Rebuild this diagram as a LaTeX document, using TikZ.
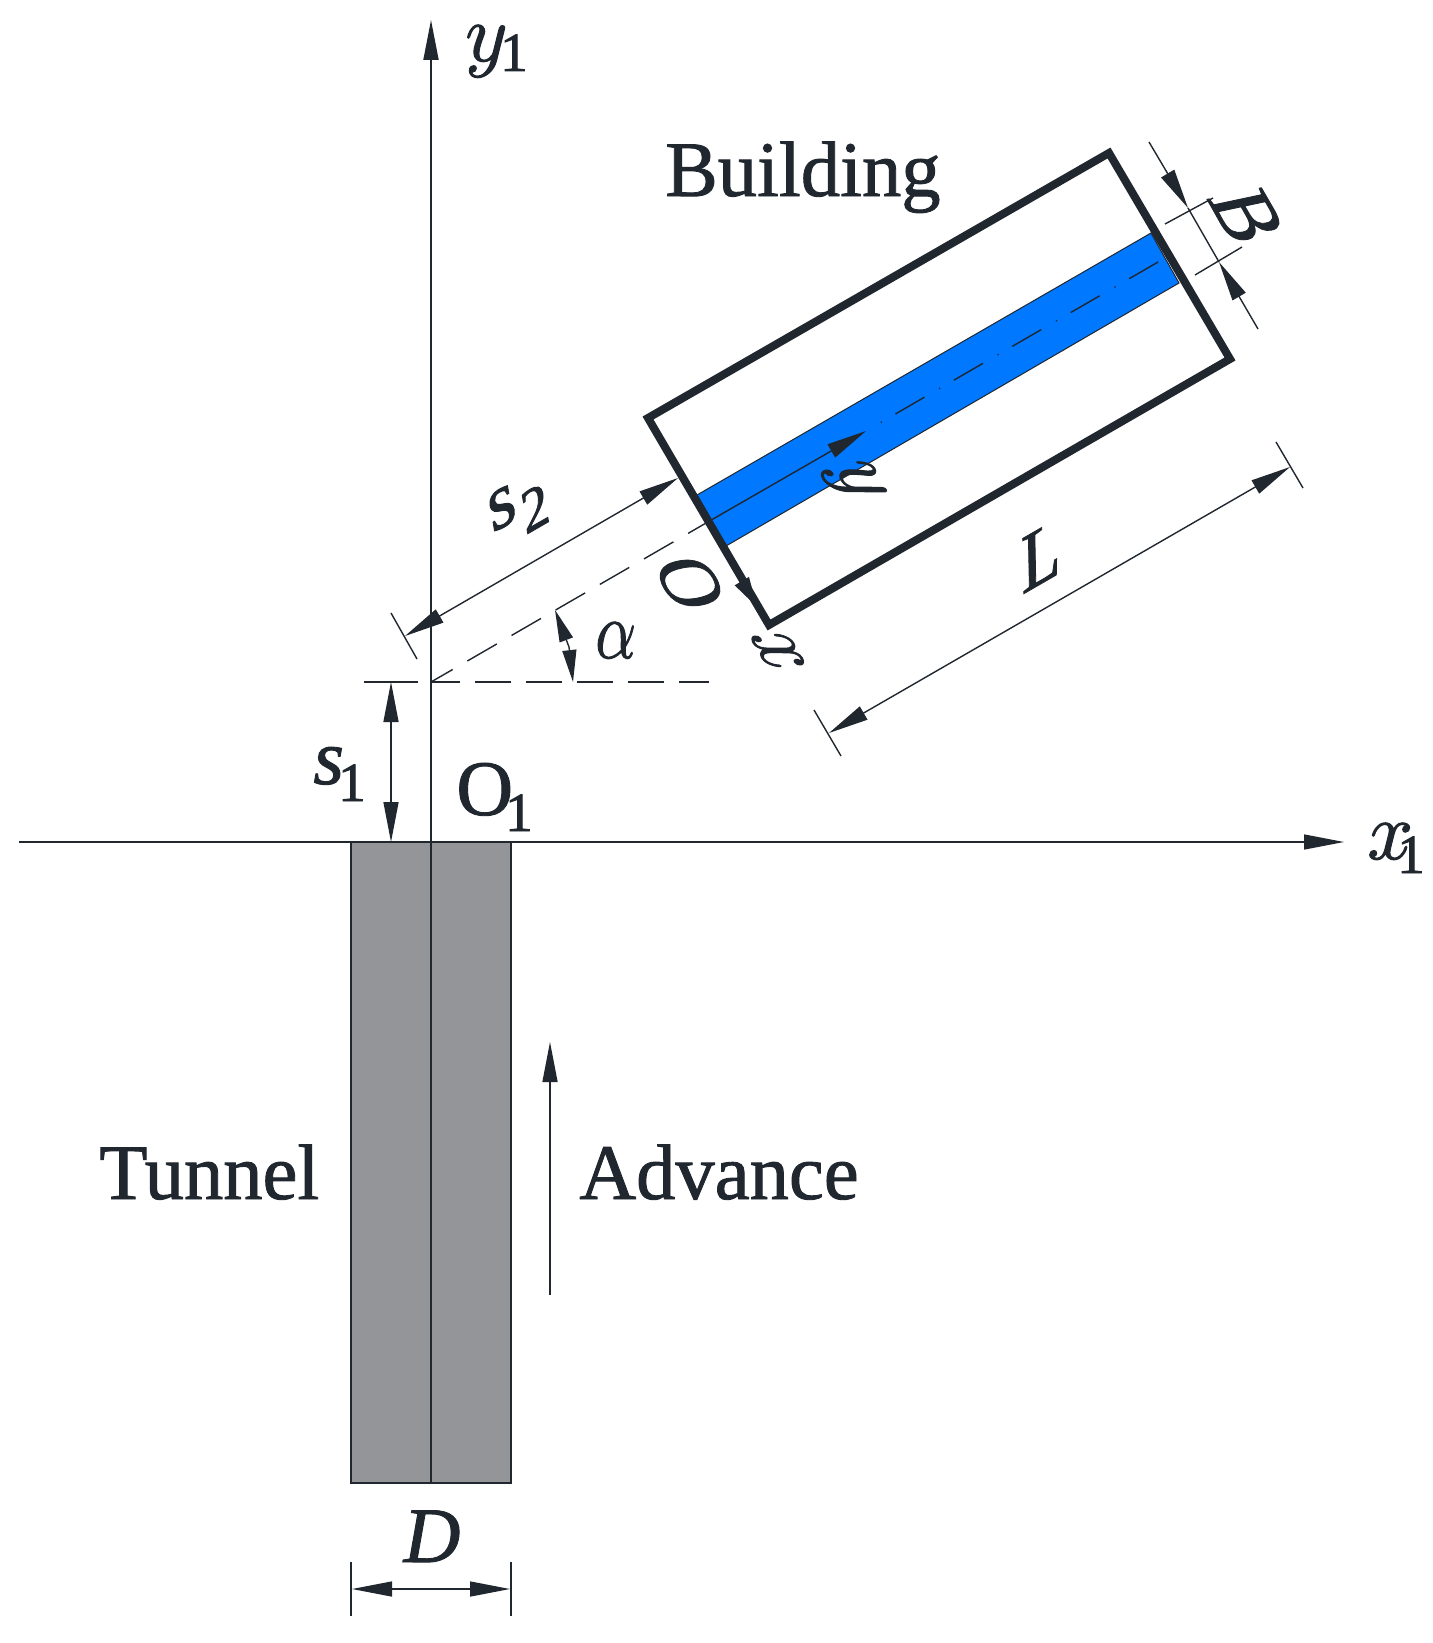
\documentclass[tikz,border=0pt]{standalone}
\usepackage{fontspec}
\setmainfont{Liberation Serif}
\usetikzlibrary{arrows.meta}
\definecolor{ink}{HTML}{20272F}
\definecolor{bandblue}{HTML}{0078FF}
\definecolor{tunnelgray}{HTML}{939598}
\newcommand{\mylarge}{\fontsize{39.3}{39.3}\selectfont}
\newcommand{\mysub}{\fontsize{27.5}{27.5}\selectfont}
\newcommand{\heavytxt}[2][0.45]{\special{pdf:code q 2 Tr #1 w}#2\special{pdf:code Q}}
\newcommand{\mymath}[1]{\heavytxt[0.35]{\scalebox{1.65}{\Huge$#1$}}}
\tikzset{
  dimtip/.tip={Triangle[length=20pt,width=7.5pt]},
  smalltip/.tip={Triangle[length=16pt,width=7pt]},
  thin line/.style={draw=ink,line width=0.8pt},
  dim line/.style={draw=ink,line width=0.7pt},
  dim both/.style={dim line,{dimtip}-{dimtip}},
  dim end/.style={dim line,-{dimtip}},
  axis line/.style={draw=ink,line width=0.9pt},
  long dash/.style={draw=ink,line width=0.7pt,dash pattern=on 17pt off 8.5pt,dash phase=4.5pt},
  level dash/.style={draw=ink,line width=0.7pt,dash pattern=on 18pt off 7.5pt,dash phase=3.5pt},
  centre dash/.style={draw=ink,line width=0.7pt,dash pattern=on 16.75pt off 8.5pt on 0.6pt off 7.9pt,dash phase=16.75pt},
  wall/.style={draw=ink,line width=4pt,line join=miter},
  lab/.style={inner sep=0pt,text=ink,font=\mylarge},
  sublab/.style={inner sep=0pt,text=ink,font=\mysub},
  skewdown/.style={inner sep=0pt,text=ink,font=\mylarge,cm={0.5,-0.866,0.978,0.208,(0,0)}},
  skewup/.style={inner sep=0pt,text=ink,font=\mylarge,cm={0.866,0.5,-0.174,0.985,(0,0)}}
}
\begin{document}
\begin{tikzpicture}[x=0.5pt,y=-0.5pt]
\useasboundingbox (0,0) rectangle (1433,1643);
\fill[white] (0,0) rectangle (1433,1643);
% key points
\coordinate (ytop) at (431,20);
\coordinate (ybot) at (431,1483);
\coordinate (xleft) at (19,842);
\coordinate (xright) at (1344,842);
\coordinate (org) at (431,682);
\coordinate (tA) at (351,842);
\coordinate (tB) at (511,842);
\coordinate (tC) at (511,1483);
\coordinate (tD) at (351,1483);
\coordinate (bTL) at (648,418);
\coordinate (bTR) at (1109,153);
\coordinate (bBR) at (1230,359);
\coordinate (bBL) at (769,625);
\coordinate (bandA) at (697,495);
\coordinate (bandB) at (1151,233);
\coordinate (bandC) at (1179,283);
\coordinate (bandD) at (726,546);
\coordinate (yorg) at (713,519);
\coordinate (ytip) at (866,431);
\coordinate (cend) at (1165,258);
% tunnel
\filldraw[fill=tunnelgray,draw=ink,line width=0.8pt] (tA) -- (tB) -- (tC) -- (tD) -- cycle;
% band
\filldraw[fill=bandblue,draw=ink,line width=0.5pt] (bandA) -- (bandB) -- (bandC) -- (bandD) -- cycle;
% axes
\draw[axis line,-{dimtip}] (ybot) -- (ytop);
\draw[dim line,-{dimtip}] (xleft) -- (xright);
% level and inclined datum lines
\coordinate (lvlA) at (364,682);
\coordinate (lvlB) at (418,682);
\coordinate (lvlC) at (709,682);
\draw[dim line] (lvlA) -- (lvlB);
\draw[level dash] (org) -- (lvlC);
\draw[long dash] (org) -- (yorg);
% local axis y
\draw[dim end] (yorg) -- (ytip);
\draw[centre dash] (ytip) -- (cend);
% s1
\coordinate (sa) at (391,682);
\coordinate (sb) at (391,842);
\draw[dim both] (sa) -- (sb);
% s2
\coordinate (s2a) at (405,636);
\coordinate (s2b) at (678,478);
\coordinate (s2t1) at (391,613);
\coordinate (s2t2) at (417,659);
\draw[dim line] (s2t1) -- (s2t2);
\draw[dim both] (s2a) -- (s2b);
% alpha
\coordinate (aa) at (555,610);
\coordinate (ab) at (573,682);
\coordinate (am) at (569,647);
\draw[dim line,-{smalltip}] (am) -- (aa);
\draw[dim line,-{smalltip}] (am) -- (ab);
% building
\draw[wall] (bTL) -- (bTR) -- (bBR) -- (bBL) -- cycle;
% local axis x
\coordinate (xorg) at (713,532);
\coordinate (xtip) at (757,607);
\draw[draw=ink,line width=1pt,-{Triangle[length=15pt,width=8pt]}] (xorg) -- (xtip);
% L
\coordinate (La) at (829,733);
\coordinate (Lb) at (1290,467);
\coordinate (Lt1) at (814,710);
\coordinate (Lt2) at (841,756);
\coordinate (Lt3) at (1276,442);
\coordinate (Lt4) at (1303,488);
\draw[dim line] (Lt1) -- (Lt2);
\draw[dim line] (Lt3) -- (Lt4);
\draw[dim both] (La) -- (Lb);
% B
\coordinate (Ba) at (1149,142);
\coordinate (Bb) at (1188,208);
\coordinate (Bc) at (1219,262);
\coordinate (Bd) at (1258,329);
\coordinate (Bt1) at (1165,224);
\coordinate (Bt2) at (1213,198);
\coordinate (Bt3) at (1195,275);
\coordinate (Bt4) at (1242,247);
\draw[dim line] (Bt1) -- (Bt2);
\draw[dim line] (Bt3) -- (Bt4);
\draw[dim end] (Ba) -- (Bb);
\draw[dim end] (Bd) -- (Bc);
\draw[dim line] (Bb) -- (Bc);
% D
\coordinate (Da) at (352,1589);
\coordinate (Db) at (510,1589);
\coordinate (Dt1) at (351,1562);
\coordinate (Dt2) at (351,1616);
\coordinate (Dt3) at (511,1562);
\coordinate (Dt4) at (511,1616);
\draw[dim line] (Dt1) -- (Dt2);
\draw[dim line] (Dt3) -- (Dt4);
\draw[dim both] (Da) -- (Db);
% advance
\coordinate (Adva) at (550,1295);
\coordinate (Advb) at (550,1042);
\draw[dim end] (Adva) -- (Advb);
% labels
\node[lab,anchor=base west] (building) at (665,196) {\heavytxt{Building}};
\node[lab,anchor=base west] (tunnel) at (99,1199) {\heavytxt{Tunnel}};
\node[lab,anchor=base west] (advance) at (579,1199) {\heavytxt{Advance}};
\node[lab,anchor=base west] (oone) at (456,815) {\heavytxt{O}};
\node[sublab,anchor=base] (oonesub) at (519,831) {\heavytxt{1}};
\node[lab,anchor=base west] (sone) at (313,784) {\heavytxt{\itshape s}};
\node[sublab,anchor=base] (sonesub) at (352,801) {\heavytxt{1}};
\node[anchor=base west,inner sep=0pt,text=ink] (yone) at (465,61) {\mymath{y}};
\node[sublab,anchor=base] (yonesub) at (514,71) {\heavytxt{1}};
\node[anchor=base west,inner sep=0pt,text=ink] (xone) at (1367,859) {\mymath{x}};
\node[sublab,anchor=base] (xonesub) at (1411,873) {\heavytxt{1}};
\node[lab,anchor=base] (dlab) at (432,1562) {\heavytxt{\itshape D}};
\node[anchor=base west,inner sep=0pt,text=ink] (alab) at (595,658) {\heavytxt[0.35]{\scalebox{1.3}[1.65]{\Huge$\alpha$}}};
\node[skewdown] (olab) at (690,583) {\heavytxt{O}};
\node[skewdown,scale=1.08] (blab) at (1247,216) {\heavytxt{B}};
\node[skewdown] (xlab) at (778,651) {\mymath{x}};
\node[skewdown] (ylab) at (853,481) {\mymath{y}};
\node[skewup] (llab) at (1039,557) {\heavytxt{\itshape L}};
\node[skewup] (stwo) at (502,508) {\heavytxt{s}};
\node[skewup,font=\fontsize{30}{30}\selectfont] (stwosub) at (535,508) {\heavytxt{2}};
\end{tikzpicture}
\end{document}
